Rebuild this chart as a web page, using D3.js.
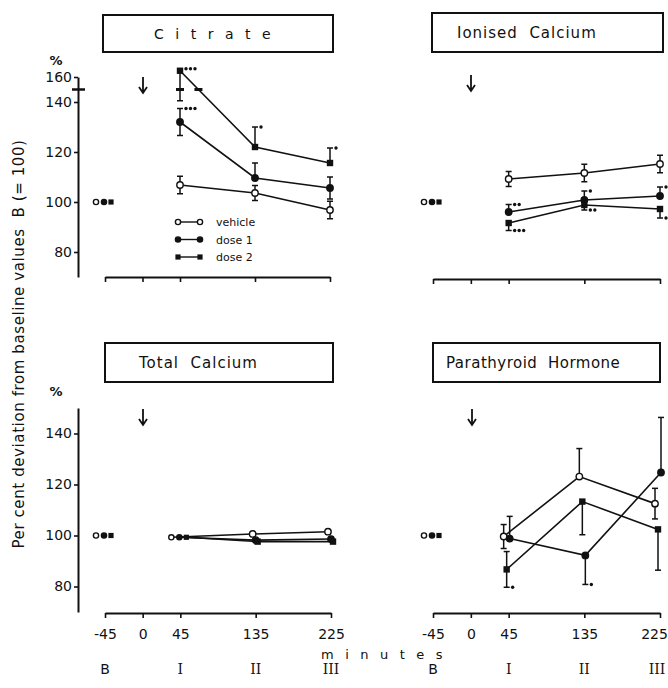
<!DOCTYPE html>
<html>
<head>
<meta charset="utf-8">
<script src="https://cdn.jsdelivr.net/npm/d3@7"></script>
<style>
  body { margin: 0; background: #fff; }
  svg { display: block; }
  text { font-family: "DejaVu Sans", sans-serif; fill: #111; }
</style>
</head>
<body>
<div id="chart"></div>
<script>
// time points (minutes) and labels
const times = [-45, 45, 135, 225];
const xTicks = [-45, 0, 45, 135, 225];
const periodLabels = ['B', 'I', 'II', 'III'];
const seriesNames = ['vehicle', 'dose 1', 'dose 2'];
const yTicksTop = [80, 100, 120, 140, 160];
const yTicksBottom = [80, 100, 120, 140];

// Citrate (% of baseline), error, bar direction, significance
const citrateVehicle = [100, 106.8, 103.6, 96.8];
const citrateDose1 = [100, 132, 109.6, 105.6];
const citrateDose2 = [100, 165, 122, 115.6];
const citrateVehicleErr = [0, 3.5, 3, 3.5];
const citrateDose1Err = [0, 5.4, 6, 4.4];
const citrateDose2Err = [0, 24, 8, 6];
const citrateBars = [['', 'b', 'b', 'b'], ['', 'b', 'u', 'b'], ['', 'd', 'u', 'u']];
const citrateStars = [['', '', '', ''], ['', 'u3', '', ''], ['', 'm3', 'u1', 'u1']];

// Ionised calcium
const ionisedVehicle = [100, 109.2, 111.6, 115.2];
const ionisedDose1 = [100, 96, 100.8, 102.4];
const ionisedDose2 = [100, 91.6, 98.8, 97.2];
const ionisedVehicleErr = [0, 3, 3.5, 3.5];
const ionisedDose1Err = [0, 3, 3.6, 3.6];
const ionisedDose2Err = [0, 3, 2, 3.6];
const ionisedBars = [['', 'b', 'b', 'b'], ['', 'u', 'u', 'u'], ['', 'd', 'd', 'd']];
const ionisedStars = [['', '', '', ''], ['', 'u2', 'u1', 'u1'], ['', 'd3', 'd2', 'd1']];

// Total calcium
const totalVehicle = [100, 99.3, 100.6, 101.5];
const totalDose1 = [100, 99.3, 98.2, 98.6];
const totalDose2 = [100, 99.3, 97.6, 97.6];
const totalErr = [0, 0, 0, 0];
const totalBars = [['', '', '', ''], ['', '', '', ''], ['', '', '', '']];
const totalStars = [['', '', '', ''], ['', '', '', ''], ['', '', '', '']];

// Parathyroid hormone
const pthVehicle = [100, 99.6, 123.1, 112.5];
const pthDose1 = [100, 98.8, 92.2, 124.7];
const pthDose2 = [100, 86.7, 113.3, 102.4];
const pthVehicleErr = [0, 4.7, 11, 6];
const pthDose1Err = [0, 8.7, 11.4, 21.6];
const pthDose2Err = [0, 7, 13, 16];
const pthBars = [['', 'b', 'u', 'b'], ['', 'u', 'd', 'u'], ['', 'b', 'd', 'd']];
const pthStars = [['', '', '', ''], ['', '', 'd1', ''], ['', 'd1', '', '']];

const width = 668, height = 688;
const svg = d3.select('#chart').append('svg')
  .attr('width', width).attr('height', height);

const baseOffsets = [-9, -1, 6];
const tickFont = '"DejaVu Sans", sans-serif';

const panels = [
  { title: 'Citrate', box: [103, 15, 230, 37], titleX: 154, spacing: 11.5, titleSize: 14,
    x0: 105, x1: 330, top: 77, bottom: 277, axisY: 277, yAxis: true, broken: true,
    arrowX: 143, arrowY: 85, xLabels: false, legend: true,
    values: [citrateVehicle, citrateDose1, citrateDose2],
    errs: [citrateVehicleErr, citrateDose1Err, citrateDose2Err],
    bars: citrateBars, stars: citrateStars, dodge: [0, 0, 0] },
  { title: 'Ionised  Calcium', box: [432, 13, 231, 39], titleX: 457, spacing: 1, titleSize: 15,
    x0: 433, x1: 660, top: 77, bottom: 277, axisY: 279, yAxis: false, broken: false,
    arrowX: 471, arrowY: 83, xLabels: false,
    values: [ionisedVehicle, ionisedDose1, ionisedDose2],
    errs: [ionisedVehicleErr, ionisedDose1Err, ionisedDose2Err],
    bars: ionisedBars, stars: ionisedStars, dodge: [0, 0, 0] },
  { title: 'Total  Calcium', box: [105, 343, 228, 39], titleX: 139, spacing: 1, titleSize: 15,
    x0: 105, x1: 331, top: 408, bottom: 612, axisY: 613, yAxis: true, broken: false,
    arrowX: 143, arrowY: 417, xLabels: true, cluster45: true, edgeShift: 0,
    values: [totalVehicle, totalDose1, totalDose2],
    errs: [totalErr, totalErr, totalErr],
    bars: totalBars, stars: totalStars, dodge: [-3, 0, 2] },
  { title: 'Parathyroid  Hormone', box: [433, 343, 227, 39], titleX: 446, spacing: 0.5, titleSize: 15,
    x0: 433, x1: 660, top: 408, bottom: 612, axisY: 613, yAxis: false, broken: false,
    arrowX: 472, arrowY: 417, xLabels: true, edgeShift: -6,
    values: [pthVehicle, pthDose1, pthDose2],
    errs: [pthVehicleErr, pthDose1Err, pthDose2Err],
    bars: pthBars, stars: pthStars, dodge: [-5, 1, -2] }
];

function drawMarker(g, i, cx, cy, small) {
  const r = small ? 2.6 : 3.2;
  if (i === 2) {
    g.append('rect').attr('x', cx - r).attr('y', cy - r)
      .attr('width', r * 2).attr('height', r * 2).attr('fill', '#111');
  } else {
    g.append('circle').attr('cx', cx).attr('cy', cy).attr('r', r)
      .attr('fill', i === 0 ? '#fff' : '#111')
      .attr('stroke', '#111').attr('stroke-width', 1.4);
  }
}

panels.forEach((p) => {
  const g = svg.append('g');
  const x = d3.scaleLinear().domain([-45, 225]).range([p.x0, p.x1]);
  const y = p.broken
    ? d3.scaleLinear().domain([70, 140, 160]).range([p.bottom, p.bottom - 70 * 2.5, p.top])
    : d3.scaleLinear().domain([70, 150]).range([p.bottom, p.top]);

  // title box
  g.append('rect').attr('x', p.box[0]).attr('y', p.box[1])
    .attr('width', p.box[2]).attr('height', p.box[3])
    .attr('fill', 'none').attr('stroke', '#111').attr('stroke-width', 2);
  g.append('text').attr('x', p.titleX).attr('y', p.box[1] + p.box[3] / 2 + 5)
    .style('font-size', p.titleSize + 'px').style('letter-spacing', p.spacing + 'px')
    .style('white-space', 'pre').text(p.title);

  // x axis
  const xAxis = d3.axisBottom(x).tickValues(xTicks).tickSize(5).tickSizeOuter(0)
    .tickFormat(p.xLabels ? (d) => d : '');
  const xg = g.append('g').attr('transform', `translate(0,${p.axisY})`).call(xAxis);
  xg.select('.domain').attr('stroke', '#111').attr('stroke-width', 2);
  xg.selectAll('.tick line').attr('stroke', '#111').attr('stroke-width', 1.6);
  xg.selectAll('.tick text').attr('dy', '1.25em')
    .attr('dx', (d) => d === 225 && p.edgeShift ? p.edgeShift : 0)
    .style('font-size', '14px').style('font-family', tickFont).attr('fill', '#111');

  if (p.xLabels) {
    g.selectAll('.period').data(times).enter().append('text')
      .attr('x', (d) => x(d) + (d === 225 && p.edgeShift ? p.edgeShift / 2 : 0))
      .attr('y', 674).attr('text-anchor', 'middle')
      .style('font-size', '14px')
      .style('font-family', (d, i) => i === 0 ? '"DejaVu Sans", sans-serif' : '"DejaVu Serif", serif')
      .text((d, i) => periodLabels[i]);
  }

  // y axis
  if (p.yAxis) {
    const ticks = p.broken ? yTicksTop : yTicksBottom;
    const yAxis = d3.axisLeft(y).tickValues(ticks).tickSize(4).tickSizeOuter(0);
    const yg = g.append('g').attr('transform', 'translate(78,0)').call(yAxis);
    yg.select('.domain').attr('stroke', '#111').attr('stroke-width', 2);
    yg.selectAll('.tick line').attr('stroke', '#111').attr('stroke-width', 1.6);
    yg.selectAll('.tick text').attr('x', -6)
      .style('font-size', '14px').style('font-family', tickFont).attr('fill', '#111');
    g.append('text').attr('x', 56).attr('y', p.top - 12).attr('text-anchor', 'middle')
      .style('font-size', '13px').style('font-weight', 'bold').text('%');
    if (p.broken) {
      g.append('line').attr('x1', 72).attr('x2', 85)
        .attr('y1', y(150)).attr('y2', y(150))
        .attr('stroke', '#111').attr('stroke-width', 2.5);
    }
  }

  // injection arrow
  g.append('path')
    .attr('d', `M${p.arrowX},${p.arrowY - 8}V${p.arrowY + 7}M${p.arrowX - 4},${p.arrowY + 2}L${p.arrowX},${p.arrowY + 8}L${p.arrowX + 4},${p.arrowY + 2}`)
    .attr('fill', 'none').attr('stroke', '#111').attr('stroke-width', 1.8);

  // series
  const pts = p.values.map((vals, i) => vals.map((v, j) => {
    let off = p.dodge[i];
    if (j === 0 || (j === 1 && p.cluster45)) off = baseOffsets[i];
    return { cx: x(times[j]) + off, cy: y(v), v, e: p.errs[i][j], bar: p.bars[i][j], star: p.stars[i][j] };
  }));

  const line = d3.line().x((d) => d.cx).y((d) => d.cy);
  pts.forEach((s) => {
    g.append('path').attr('d', line(s.slice(1)))
      .attr('fill', 'none').attr('stroke', '#111').attr('stroke-width', 1.6);
  });

  // error bars and significance dots
  pts.forEach((s) => {
    s.forEach((d) => {
      if (!d.bar) return;
      const yUp = y(d.v + d.e), yDn = y(d.v - d.e);
      const y1 = d.bar === 'd' ? d.cy : yUp;
      const y2 = d.bar === 'u' ? d.cy : yDn;
      g.append('line').attr('x1', d.cx).attr('x2', d.cx).attr('y1', y1).attr('y2', y2)
        .attr('stroke', '#111').attr('stroke-width', 1.5);
      if (d.bar !== 'd') g.append('line').attr('x1', d.cx - 3).attr('x2', d.cx + 3)
        .attr('y1', yUp).attr('y2', yUp).attr('stroke', '#111').attr('stroke-width', 1.5);
      if (d.bar !== 'u') g.append('line').attr('x1', d.cx - 3).attr('x2', d.cx + 3)
        .attr('y1', yDn).attr('y2', yDn).attr('stroke', '#111').attr('stroke-width', 1.5);
      if (d.star) {
        const side = d.star[0], n = +d.star.slice(1);
        const sy = side === 'u' ? yUp : side === 'd' ? yDn : d.cy - 2;
        for (let k = 0; k < n; k++) {
          g.append('circle').attr('cx', d.cx + 6 + k * 4.5).attr('cy', sy).attr('r', 1.7).attr('fill', '#111');
        }
      }
    });
  });

  // scale-break marks where lines and bars cross the break
  if (p.broken) {
    const by = y(150);
    const marks = [];
    pts.forEach((s) => {
      for (let j = 1; j < s.length - 1; j++) {
        const a = s[j], b = s[j + 1];
        if ((a.cy - by) * (b.cy - by) < 0) {
          marks.push(a.cx + (b.cx - a.cx) * (by - a.cy) / (b.cy - a.cy));
        }
      }
      s.forEach((d) => {
        if (d.bar && d.bar !== 'u' && d.v > 150 && d.v - d.e < 150) marks.push(d.cx);
      });
    });
    marks.forEach((mx) => {
      g.append('line').attr('x1', mx - 4).attr('x2', mx + 4).attr('y1', by).attr('y2', by)
        .attr('stroke', '#111').attr('stroke-width', 3);
    });
  }

  pts.forEach((s, i) => {
    s.forEach((d, j) => drawMarker(g, i, d.cx, d.cy, j === 0 || (j === 1 && p.cluster45)));
  });

  // legend
  if (p.legend) {
    seriesNames.forEach((name, i) => {
      const ly = 222 + i * 17.5;
      g.append('line').attr('x1', 178).attr('x2', 200).attr('y1', ly).attr('y2', ly)
        .attr('stroke', '#111').attr('stroke-width', 1.4);
      drawMarker(g, i, 178, ly, true);
      drawMarker(g, i, 200, ly, true);
      g.append('text').attr('x', 216).attr('y', ly + 4).style('font-size', '11px').text(name);
    });
  }
});

// shared labels
svg.append('text').attr('transform', 'translate(24,344) rotate(-90)')
  .attr('text-anchor', 'middle').style('font-size', '15px').style('letter-spacing', '0.6px')
  .style('white-space', 'pre')
  .text('Per cent deviation from baseline values  B (= 100)');
svg.append('text').attr('x', 321).attr('y', 659)
  .style('font-size', '13px').style('letter-spacing', '11.5px').text('minutes');
</script>
</body>
</html>
